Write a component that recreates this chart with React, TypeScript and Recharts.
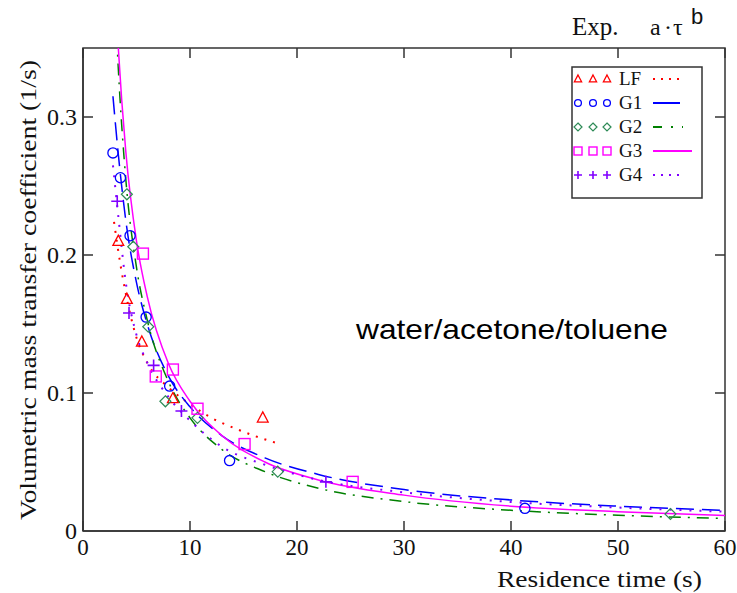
import React from "react";
import {
  ComposedChart, Line, Scatter, XAxis, YAxis, ReferenceArea,
} from "recharts";

const X_TICKS = [0, 10, 20, 30, 40, 50, 60];
const Y_TICKS = [0, 0.1, 0.2, 0.3];

const LF_X = [3.3, 4.1, 5.5, 8.4, 16.8];
const LF_Y = [0.21, 0.168, 0.137, 0.096, 0.082];
const G1_X = [2.8, 3.5, 4.4, 5.9, 8.1, 13.7, 41.3];
const G1_Y = [0.274, 0.256, 0.214, 0.155, 0.105, 0.051, 0.0164];
const G2_X = [4.1, 4.7, 6.1, 7.7, 10.7, 18.2, 54.9];
const G2_Y = [0.244, 0.206, 0.148, 0.094, 0.082, 0.043, 0.0123];
const G3_X = [5.6, 6.8, 8.4, 10.7, 15.1, 25.2];
const G3_Y = [0.201, 0.112, 0.117, 0.0886, 0.063, 0.0356];
const G4_X = [3.2, 4.3, 6.6, 9.2, 22.7];
const G4_Y = [0.239, 0.158, 0.12, 0.087, 0.0356];

// fitted curves a*tau^b
const FIT_X = [2.8, 3.3, 4, 5, 6, 8, 10, 13, 17, 22, 30, 40, 50, 60];
const FIT_G1 = [0.315, 0.273, 0.225, 0.18, 0.15, 0.112, 0.09, 0.069, 0.053, 0.041, 0.03, 0.0225, 0.018, 0.015];
const FIT_G2 = [0.42, 0.335, 0.255, 0.191, 0.153, 0.108, 0.082, 0.059, 0.043, 0.031, 0.0213, 0.015, 0.0114, 0.0091];
const FIT_G3 = [0.426, 0.35, 0.275, 0.21, 0.17, 0.121, 0.094, 0.069, 0.05, 0.037, 0.026, 0.018, 0.014, 0.0112];
const FIT_G4 = [0.265, 0.228, 0.18, 0.142, 0.122, 0.097, 0.08, 0.061, 0.048, 0.037, 0.028, 0.021, 0.017, 0.014];
const FIT_LF_X = [2.9, 3.5, 4, 5, 6, 8, 10, 12, 14, 16, 18];
const FIT_LF = [0.224, 0.193, 0.172, 0.14, 0.122, 0.104, 0.092, 0.082, 0.075, 0.069, 0.064];

const pts = (xs: number[], ys: number[]) => xs.map((x, i) => ({ x, y: ys[i] }));

const W = 737;
const H = 593;
const TOP = 48;
const BOTTOM = 531;
const LEFT = 83;
const RIGHT = 725;
const SERIF = "'Liberation Serif', 'Times New Roman', serif";
const SANS = "'Liberation Sans', Arial, sans-serif";
const AXIS = "#333";

const RED = "#ff0000";
const BLUE = "#0000ff";
const GREEN = "#008000";
const DIAMOND = "#2e8b57";
const MAGENTA = "#ff00ff";
const PURPLE = "#8000ff";

const triangle = (cx: number, cy: number, s: number, color: string) => (
  <path d={`M${cx},${cy - s} L${cx + s * 0.9},${cy + s * 0.7} L${cx - s * 0.9},${cy + s * 0.7} Z`} fill="none" stroke={color} strokeWidth={1.3} />
);
const circle = (cx: number, cy: number, s: number, color: string) => (
  <circle cx={cx} cy={cy} r={s * 0.85} fill="none" stroke={color} strokeWidth={1.3} />
);
const diamond = (cx: number, cy: number, s: number, color: string) => (
  <path d={`M${cx},${cy - s} L${cx + s},${cy} L${cx},${cy + s} L${cx - s},${cy} Z`} fill="none" stroke={color} strokeWidth={1.2} />
);
const square = (cx: number, cy: number, s: number, color: string) => (
  <rect x={cx - s} y={cy - s} width={2 * s} height={2 * s} fill="none" stroke={color} strokeWidth={1.4} />
);
const plus = (cx: number, cy: number, s: number, color: string) => (
  <path d={`M${cx - s},${cy} H${cx + s} M${cx},${cy - s} V${cy + s}`} fill="none" stroke={color} strokeWidth={1.6} />
);

const mk = (fn: typeof circle, s: number, color: string) => (p: any) => <g>{fn(p.cx, p.cy, s, color)}</g>;

const BottomTick = (p: any) => (
  <g>
    <line x1={p.x} x2={p.x} y1={BOTTOM} y2={BOTTOM - 10} stroke={AXIS} strokeWidth={1.5} />
    <line x1={p.x} x2={p.x} y1={TOP} y2={TOP + 10} stroke={AXIS} strokeWidth={1.5} />
    <text x={p.x} y={BOTTOM + 24} textAnchor="middle" fontFamily={SERIF} fontSize={23} fill="#111">
      {p.payload.value}
    </text>
  </g>
);

const LeftTick = (p: any) => {
  const v = p.payload.value;
  return (
    <g>
      {v > 0 && <line x1={LEFT} x2={LEFT + 10} y1={p.y} y2={p.y} stroke={AXIS} strokeWidth={1.5} />}
      {v > 0 && <line x1={RIGHT} x2={RIGHT - 10} y1={p.y} y2={p.y} stroke={AXIS} strokeWidth={1.5} />}
      <text x={77} y={p.y + 8} textAnchor="end" fontFamily={SERIF} fontSize={24} fill="#111">
        {v === 0 ? "0" : v.toFixed(1)}
      </text>
    </g>
  );
};

const LEGEND = [
  { name: "LF", color: RED, shape: triangle, dash: "2 6", w: 2, end: 683 },
  { name: "G1", color: BLUE, shape: circle, dash: undefined, w: 2, end: 680, mc: BLUE },
  { name: "G2", color: GREEN, shape: diamond, dash: "9 9 2 9", w: 2, end: 683, mc: DIAMOND },
  { name: "G3", color: MAGENTA, shape: square, dash: undefined, w: 2, end: 692 },
  { name: "G4", color: PURPLE, shape: plus, dash: "2 6", w: 2, end: 683 },
];

export default function App() {
  return (
    <div style={{ position: "absolute", left: 0, top: 0, width: W, height: H, background: "#fff" }}>
      <ComposedChart width={W} height={H} margin={{ top: TOP, right: W - RIGHT, bottom: H - BOTTOM - 40, left: LEFT - 60 }}>
        <XAxis
          xAxisId="b"
          dataKey="x"
          type="number"
          domain={[0, 60]}
          ticks={X_TICKS}
          height={40}
          tickSize={0}
          tickLine={false}
          axisLine={{ stroke: AXIS, strokeWidth: 1.5 }}
          tick={BottomTick}
          allowDataOverflow
        />
        <YAxis
          yAxisId="l"
          type="number"
          domain={[0, 0.35]}
          ticks={Y_TICKS}
          width={60}
          tickSize={0}
          tickLine={false}
          axisLine={{ stroke: AXIS, strokeWidth: 1.5 }}
          tick={LeftTick}
          allowDataOverflow
        />
        <ReferenceArea xAxisId="b" yAxisId="l" x1={0} x2={60} y1={0} y2={0.35} fill="none" stroke={AXIS} strokeWidth={1.5} ifOverflow="visible" />

        <Line xAxisId="b" yAxisId="l" data={pts(FIT_LF_X, FIT_LF)} dataKey="y" type="monotone" stroke={RED} strokeWidth={2} strokeDasharray="2 7" dot={false} isAnimationActive={false} />
        <Line xAxisId="b" yAxisId="l" data={pts(FIT_X, FIT_G1)} dataKey="y" type="monotone" stroke={BLUE} strokeWidth={1.5} strokeDasharray="18 8" dot={false} isAnimationActive={false} />
        <Line xAxisId="b" yAxisId="l" data={pts(FIT_X, FIT_G2)} dataKey="y" type="monotone" stroke={GREEN} strokeWidth={1.5} strokeDasharray="12 7 2 7" dot={false} isAnimationActive={false} />
        <Line xAxisId="b" yAxisId="l" data={pts(FIT_X, FIT_G3)} dataKey="y" type="monotone" stroke={MAGENTA} strokeWidth={1.5} dot={false} isAnimationActive={false} />
        <Line xAxisId="b" yAxisId="l" data={pts(FIT_X, FIT_G4)} dataKey="y" type="monotone" stroke={PURPLE} strokeWidth={2} strokeDasharray="2 8" dot={false} isAnimationActive={false} />

        <Scatter xAxisId="b" yAxisId="l" data={pts(LF_X, LF_Y)} dataKey="y" shape={mk(triangle, 6, RED)} isAnimationActive={false} />
        <Scatter xAxisId="b" yAxisId="l" data={pts(G1_X, G1_Y)} dataKey="y" shape={mk(circle, 6, BLUE)} isAnimationActive={false} />
        <Scatter xAxisId="b" yAxisId="l" data={pts(G2_X, G2_Y)} dataKey="y" shape={mk(diamond, 5.5, DIAMOND)} isAnimationActive={false} />
        <Scatter xAxisId="b" yAxisId="l" data={pts(G3_X, G3_Y)} dataKey="y" shape={mk(square, 5.5, MAGENTA)} isAnimationActive={false} />
        <Scatter xAxisId="b" yAxisId="l" data={pts(G4_X, G4_Y)} dataKey="y" shape={mk(plus, 6, PURPLE)} isAnimationActive={false} />
      </ComposedChart>

      <svg width={W} height={H} style={{ position: "absolute", left: 0, top: 0, pointerEvents: "none" }}>
        <text x={28} y={290} transform="rotate(-90 28 290)" textAnchor="middle" dominantBaseline="central" fontFamily={SERIF} fontSize={24} fill="#111" textLength={460} lengthAdjust="spacingAndGlyphs">
          Volumetric mass transfer coefficient (1/s)
        </text>
        <text x={497} y={587} fontFamily={SERIF} fontSize={24} fill="#111" textLength={205} lengthAdjust="spacingAndGlyphs">
          Residence time (s)
        </text>
        <text x={572} y={35} fontFamily={SERIF} fontSize={25} fill="#111">Exp.</text>
        <text y={35} fontFamily={SERIF} fontSize={24} fill="#111">
          <tspan x={650}>a</tspan>
          <tspan x={664}>·</tspan>
          <tspan x={673}>τ</tspan>
        </text>
        <text x={691} y={24} fontFamily={SANS} fontSize={22} fill="#111">b</text>
        <text x={356} y={339} fontFamily={SANS} fontSize={28} fill="#000" textLength={312} lengthAdjust="spacingAndGlyphs">
          water/acetone/toluene
        </text>

        <rect x={572} y={67} width={130} height={131} fill="#fff" stroke={AXIS} strokeWidth={1.5} />
        {LEGEND.map((l, i) => {
          const cy = 79 + i * 24;
          const mc = l.mc || l.color;
          return (
            <g key={l.name}>
              {[578, 593, 607].map((cx) => <g key={cx}>{l.shape(cx, cy, 4, mc)}</g>)}
              <text x={619} y={cy + 6} fontFamily={SERIF} fontSize={19} fill="#111">{l.name}</text>
              <line x1={653} x2={l.end} y1={cy} y2={cy} stroke={l.color} strokeWidth={l.w} strokeDasharray={l.dash} />
            </g>
          );
        })}
      </svg>
    </div>
  );
}
